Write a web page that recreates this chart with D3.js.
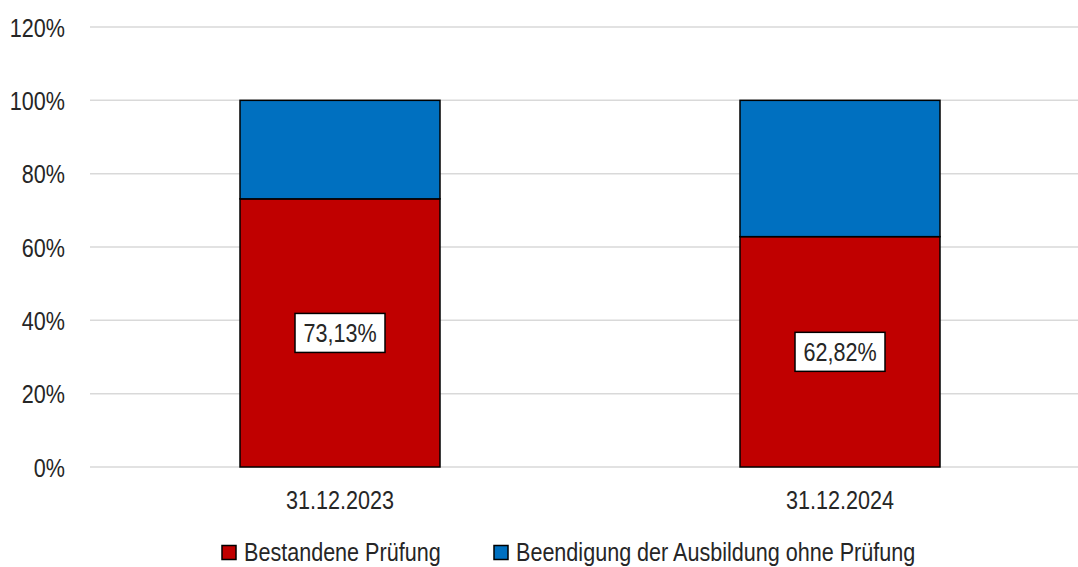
<!DOCTYPE html>
<html><head><meta charset="utf-8">
<script src="https://cdn.jsdelivr.net/npm/d3@7"></script>
<style>
body{margin:0;background:#fff;}
text{font-family:"Liberation Sans",Arial,sans-serif;fill:#262626;}
</style></head><body>
<svg id="c" width="1078" height="567"></svg>
<script>
const categories = ["31.12.2023", "31.12.2024"];
const seriesNames = ["Bestandene Prüfung", "Beendigung der Ausbildung ohne Prüfung"];
const passed = [73.13, 62.82];
const withoutExam = [26.87, 37.18];
const labels = ["73,13%", "62,82%"];
const yTicks = [0, 20, 40, 60, 80, 100, 120];
const colors = ["#C00000", "#0070C0"];
const FS = 26, NARROW = 0.83;

const svg = d3.select("#c");
const x = d3.scaleBand().domain(categories).range([90, 1090]).paddingInner(0.6).paddingOuter(0.3);
const y = d3.scaleLinear().domain([0, 120]).range([467, 27]);

function narrowText(sel) {
  sel.attr("font-size", FS).attr("transform", `scale(${NARROW},1)`);
}

// gridlines
svg.append("g").selectAll("line").data(yTicks).join("line")
  .attr("x1", 90).attr("x2", 1078)
  .attr("y1", d => y(d)).attr("y2", d => y(d))
  .attr("stroke", "#d9d9d9").attr("stroke-width", 1.5);

// y axis labels
const yAxis = d3.axisLeft(y).tickValues(yTicks).tickFormat(d => d + "%").tickSize(0).tickPadding(0);
const gy = svg.append("g").attr("transform", "translate(65,0)").call(yAxis);
gy.select(".domain").remove();
gy.attr("font-family", null).attr("font-size", null);
gy.selectAll("text").attr("x", 0).attr("dy", "0.35em").call(narrowText);

// stacks
const rows = categories.map((c, i) => ({cat: c, a: passed[i], b: withoutExam[i]}));
const stack = d3.stack().keys(["a", "b"])(rows);
stack.forEach((layer, li) => {
  svg.append("g").selectAll("rect").data(layer).join("rect")
    .attr("x", d => x(d.data.cat))
    .attr("width", x.bandwidth())
    .attr("y", d => y(d[1]))
    .attr("height", d => y(d[0]) - y(d[1]))
    .attr("fill", colors[li])
    .attr("stroke", "#000").attr("stroke-width", 1.5);
});

// data labels
rows.forEach((r, i) => {
  const cx = x(r.cat) + x.bandwidth() / 2;
  const cy = y(r.a / 2);
  const g = svg.append("g").attr("transform", `translate(${cx},${cy})`);
  g.append("rect").attr("x", -45).attr("y", -19.5)
    .attr("width", 90).attr("height", 39)
    .attr("fill", "#fff").attr("stroke", "#000").attr("stroke-width", 1.5);
  g.append("text").attr("x", 0).attr("y", 0).attr("dy", "0.35em")
    .attr("text-anchor", "middle").text(labels[i]).call(narrowText);
});

// x axis labels
const xAxis = d3.axisBottom(x).tickSize(0).tickPadding(0);
const gx = svg.append("g").attr("transform", "translate(0,500)").call(xAxis);
gx.select(".domain").remove();
gx.attr("font-family", null).attr("font-size", null);
gx.selectAll("text").attr("y", 0).attr("dy", "0.35em").call(narrowText);

// legend
const legX = [222, 494];
seriesNames.forEach((n, i) => {
  svg.append("rect").attr("x", legX[i]).attr("y", 545.5).attr("width", 14).attr("height", 14)
    .attr("fill", colors[i]).attr("stroke", "#000").attr("stroke-width", 1.5);
  svg.append("g").attr("transform", `translate(${legX[i] + 22},552)`)
    .append("text").attr("x", 0).attr("y", 0).attr("dy", "0.35em").text(n).call(narrowText);
});
</script></body></html>
